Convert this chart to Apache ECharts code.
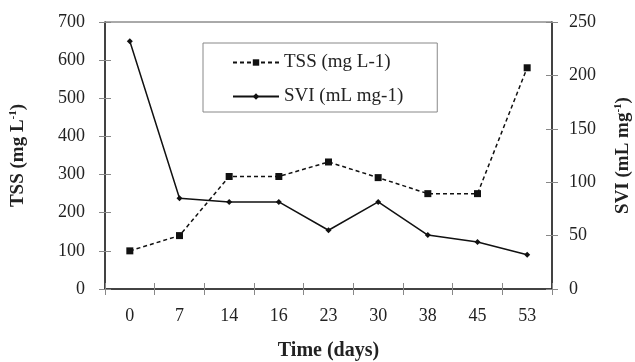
<!DOCTYPE html>
<html><head><meta charset="utf-8">
<script src="https://cdn.jsdelivr.net/npm/echarts@6/dist/echarts.min.js"></script>
<style>html,body{margin:0;padding:0;background:#fff}#c{width:635px;height:362px}</style>
</head><body><div id="c"></div>
<script>
const days = ['0','7','14','16','23','30','38','45','53'];
const tss = [100, 140, 295, 295, 333, 292, 250, 250, 580];
const svi = [232, 85, 81.5, 81.5, 55, 81.5, 50.5, 44, 32];
const tssTicks = {min: 0, max: 700, interval: 100};
const sviTicks = {min: 0, max: 250, interval: 50};

const FONT = 'Liberation Serif';
const TXT = '#222';
const chart = echarts.init(document.getElementById('c'), null, {renderer: 'canvas'});
const nameRich = {
  a: {fontFamily: FONT, fontWeight: 'bold', fontSize: 19, color: TXT},
  b: {fontFamily: FONT, fontWeight: 'bold', fontSize: 11, color: TXT, padding: [0, 0, 9, 0]}
};
const lbl = {fontFamily: FONT, fontSize: 18, color: TXT};
chart.setOption({
  animation: false,
  grid: {left: 105, right: 83, top: 22, bottom: 73, show: true, borderColor: '#555', borderWidth: 1,
         containLabel: false, outerBoundsMode: 'none'},
  legend: {
    orient: 'vertical', left: 203, top: 43,
    padding: [10, 34, 6, 29], itemGap: 15, itemWidth: 46, itemHeight: 8,
    backgroundColor: '#fff', borderColor: '#888', borderWidth: 1,
    textStyle: {fontFamily: FONT, fontSize: 19, color: TXT},
    data: ['TSS (mg L-1)', 'SVI (mL mg-1)']
  },
  xAxis: [{
    type: 'category', data: days, boundaryGap: true,
    name: 'Time (days)', nameLocation: 'middle', nameGap: 52, nameMoveOverlap: false,
    nameTextStyle: {fontFamily: FONT, fontWeight: 'bold', fontSize: 20, color: TXT},
    axisLine: {lineStyle: {color: '#222', width: 1.5}},
    axisTick: {show: true, inside: false, length: 6, lineStyle: {color: '#888'}},
    axisLabel: Object.assign({margin: 18}, lbl)
  }, {
    type: 'category', data: days, boundaryGap: true, position: 'bottom',
    axisLine: {show: false}, axisLabel: {show: false},
    axisTick: {show: true, inside: true, length: 6, lineStyle: {color: '#888'}}
  }],
  yAxis: [{
    type: 'value', min: tssTicks.min, max: tssTicks.max, interval: tssTicks.interval, position: 'left',
    name: '{a|TSS (mg L}{b|-1}{a|)}', nameLocation: 'middle', nameGap: 77, nameRotate: 90, nameMoveOverlap: false,
    nameTextStyle: {rich: nameRich},
    axisLine: {show: true, lineStyle: {color: '#222', width: 1.5}},
    axisTick: {show: true, inside: false, length: 6, lineStyle: {color: '#888'}},
    splitLine: {show: false},
    axisLabel: Object.assign({margin: 20}, lbl)
  }, {
    type: 'value', min: sviTicks.min, max: sviTicks.max, interval: sviTicks.interval, position: 'right',
    name: '{a|SVI (mL mg}{b|-1}{a|)}', nameLocation: 'middle', nameGap: 61, nameRotate: 90, nameMoveOverlap: false,
    nameTextStyle: {rich: nameRich},
    axisLine: {show: true, lineStyle: {color: '#222', width: 1.5}},
    axisTick: {show: true, inside: false, length: 6, lineStyle: {color: '#888'}},
    splitLine: {show: false},
    axisLabel: Object.assign({margin: 17}, lbl)
  }, {
    type: 'value', min: tssTicks.min, max: tssTicks.max, interval: tssTicks.interval, position: 'left',
    axisLine: {show: false}, axisLabel: {show: false}, splitLine: {show: false},
    axisTick: {show: true, inside: true, length: 6, lineStyle: {color: '#888'}}
  }, {
    type: 'value', min: sviTicks.min, max: sviTicks.max, interval: sviTicks.interval, position: 'right',
    axisLine: {show: false}, axisLabel: {show: false}, splitLine: {show: false},
    axisTick: {show: true, inside: true, length: 6, lineStyle: {color: '#888'}}
  }],
  series: [{
    name: 'TSS (mg L-1)', type: 'line', data: tss, yAxisIndex: 0,
    symbol: 'rect', symbolSize: 7,
    lineStyle: {color: '#111', width: 1.5, type: [4, 3]},
    itemStyle: {color: '#111'}
  }, {
    name: 'SVI (mL mg-1)', type: 'line', data: svi, yAxisIndex: 1,
    symbol: 'diamond', symbolSize: 6,
    lineStyle: {color: '#111', width: 1.5, type: 'solid'},
    itemStyle: {color: '#111'}
  }]
});
</script></body></html>
